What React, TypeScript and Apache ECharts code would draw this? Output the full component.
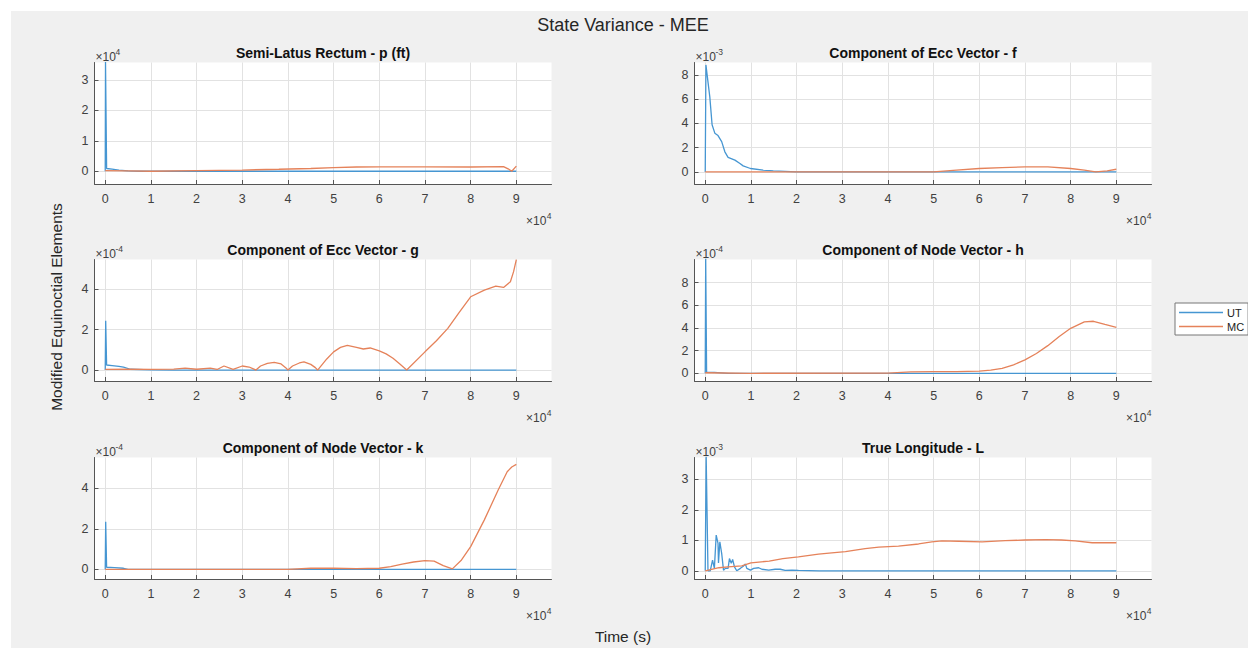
import React, { useEffect, useRef } from "react";
import * as echarts from "echarts";

// ---------- data (time in s; values in units of each panel's axis exponent) ----------
const X_TICKS = [0, 10000, 20000, 30000, 40000, 50000, 60000, 70000, 80000, 90000];

// Semi-Latus Rectum p (x1e4 ft)
const pUT = [[0, 0], [60, 3.6], [300, 0.09], [1500, 0.07], [3000, 0.04], [5000, 0.01], [8000, 0], [90000, 0]];
const pMC = [[0, 0.02], [5000, 0.01], [10000, 0], [20000, 0.02], [30000, 0.04], [38000, 0.066], [45000, 0.09], [50000, 0.12], [55000, 0.14], [60000, 0.145], [70000, 0.145], [80000, 0.14], [87200, 0.15], [88200, 0.08], [89000, 0], [90000, 0.17]];
const pTicks = [0, 1, 2, 3];

// Ecc vector f (x1e-3)
const fUT = [[0, 0], [150, 8.84], [1000, 6.2], [1500, 3.9], [2100, 3.2], [2800, 3.0], [3600, 2.5], [4300, 1.66], [5000, 1.2], [6500, 0.97], [7600, 0.69], [8300, 0.5], [9900, 0.28], [12700, 0.14], [14900, 0.08], [20000, 0.01], [25000, 0], [90000, 0]];
const fMC = [[0, 0], [30000, 0], [45000, 0.01], [50000, 0], [55000, 0.14], [60000, 0.28], [65000, 0.36], [70000, 0.41], [75000, 0.41], [80000, 0.28], [83000, 0.14], [85500, 0], [88000, 0.08], [90000, 0.22]];
const fTicks = [0, 2, 4, 6, 8];

// Ecc vector g (x1e-4)
const gUT = [[0, 0], [100, 2.44], [300, 0.25], [1500, 0.22], [3000, 0.18], [4000, 0.15], [5500, 0.04], [10000, 0.01], [15000, 0], [90000, 0]];
const gMC = [[0, 0.03], [5000, 0.05], [10000, 0.03], [15000, 0.05], [17500, 0.1], [20000, 0.04], [23000, 0.1], [24500, 0.03], [26000, 0.2], [28000, 0.03], [30000, 0.2], [31500, 0.15], [33000, 0], [34000, 0.2], [35500, 0.33], [37000, 0.38], [38500, 0.3], [39500, 0.12], [40000, 0], [41000, 0.2], [42500, 0.35], [43500, 0.4], [45000, 0.28], [46000, 0.12], [46500, 0], [48500, 0.55], [50000, 0.9], [51500, 1.12], [53000, 1.22], [55000, 1.12], [56500, 1.04], [58000, 1.09], [60000, 0.95], [61500, 0.8], [63000, 0.58], [64500, 0.3], [66000, 0], [70000, 0.9], [72500, 1.45], [75000, 2.06], [77500, 2.85], [80000, 3.62], [83000, 3.95], [85500, 4.15], [87200, 4.08], [88700, 4.36], [89400, 4.86], [90000, 5.45]];
const gTicks = [0, 2, 4];

// Node vector h (x1e-4)
const hUT = [[0, 0], [100, 10.2], [300, 0.1], [2000, 0.08], [5000, 0], [90000, 0]];
const hMC = [[0, 0.05], [10000, 0], [40000, 0.02], [45000, 0.12], [50000, 0.15], [55000, 0.15], [60000, 0.2], [62500, 0.28], [65000, 0.44], [67500, 0.75], [70000, 1.18], [72500, 1.75], [75000, 2.44], [77500, 3.25], [80000, 3.97], [83000, 4.53], [85000, 4.59], [87500, 4.32], [90000, 4.06]];
const hTicks = [0, 2, 4, 6, 8];

// Node vector k (x1e-4)
const kUT = [[0, 0], [100, 2.35], [300, 0.1], [2000, 0.08], [4000, 0.05], [5000, 0], [90000, 0]];
const kMC = [[0, 0], [40000, 0], [45000, 0.05], [50000, 0.05], [55000, 0.03], [60000, 0.05], [62500, 0.13], [65000, 0.25], [67500, 0.36], [70000, 0.43], [72000, 0.4], [74000, 0.18], [76000, 0.02], [78000, 0.46], [80000, 1.12], [83000, 2.44], [86000, 3.9], [88000, 4.82], [89000, 5.05], [90000, 5.18]];
const kTicks = [0, 2, 4];

// True longitude L (x1e-3)
const LUT = [[0, 0], [200, 3.8], [600, 0], [1100, 0], [1600, 0.35], [2000, 0.08], [2400, 1.17], [2800, 0.9], [2900, 0.26], [3200, 0.95], [3600, 0.57], [4000, 0.02], [4400, 0.08], [5000, 0.08], [5300, 0.4], [5700, 0.25], [6000, 0.37], [6400, 0.13], [6900, 0], [7700, 0.08], [8400, 0.16], [8800, 0.22], [9100, 0.08], [9900, 0.02], [10600, 0.08], [11700, 0.1], [12400, 0.05], [13900, 0.02], [15300, 0.05], [16400, 0.05], [17500, 0.01], [19000, 0.02], [20400, 0.01], [25000, 0], [90000, 0]];
const LMC = [[0, 0], [3000, 0.1], [5000, 0.13], [8000, 0.16], [10000, 0.26], [14000, 0.32], [17000, 0.4], [20400, 0.46], [24800, 0.55], [27700, 0.59], [30700, 0.63], [35000, 0.73], [38000, 0.78], [42300, 0.81], [46700, 0.88], [49600, 0.95], [51800, 0.98], [55500, 0.97], [60600, 0.95], [65700, 0.99], [70000, 1.01], [74500, 1.02], [78000, 1.01], [81000, 0.98], [84700, 0.92], [90000, 0.92]];
const LTicks = [0, 1, 2, 3];

// ---------- layout / style ----------
const FONT = "'Liberation Sans', Arial, Helvetica, sans-serif";
const COL_X = [94.5, 694.5];
const ROW_Y = [62.5, 259.5, 457.5];
const GW = 457;
const GH = 121.5;
const X_MIN = -2350;
const X_MAX = 97700;
const UT_COLOR = "#4696d2";
const MC_COLOR = "#e5825a";
const AX_COLOR = "#555555";
const LBL_COLOR = "#404040";
const GRID_COLOR = "#e2e2e2";

const panels = [
  { title: "Semi-Latus Rectum - p (ft)", exp: "4", ut: pUT, mc: pMC, yMin: -0.42, yMax: 3.58, ticks: pTicks, col: 0, row: 0 },
  { title: "Component of Ecc Vector - f", exp: "-3", ut: fUT, mc: fMC, yMin: -1.0, yMax: 9.04, ticks: fTicks, col: 1, row: 0 },
  { title: "Component of Ecc Vector - g", exp: "-4", ut: gUT, mc: gMC, yMin: -0.54, yMax: 5.46, ticks: gTicks, col: 0, row: 1 },
  { title: "Component of Node Vector - h", exp: "-4", ut: hUT, mc: hMC, yMin: -0.68, yMax: 10.04, ticks: hTicks, col: 1, row: 1 },
  { title: "Component of Node Vector - k", exp: "-4", ut: kUT, mc: kMC, yMin: -0.48, yMax: 5.52, ticks: kTicks, col: 0, row: 2 },
  { title: "True Longitude - L", exp: "-3", ut: LUT, mc: LMC, yMin: -0.27, yMax: 3.72, ticks: LTicks, col: 1, row: 2 },
];

function expoLabel(x: number, y: number, sup: string, align: "left" | "right") {
  const supW = sup.length * 4.6 + 0.5;
  const mainStyle = { fontSize: 12, fontFamily: FONT, fill: LBL_COLOR, verticalAlign: "middle" };
  const supStyle = { fontSize: 8.5, fontFamily: FONT, fill: LBL_COLOR, verticalAlign: "middle" };
  if (align === "left") {
    return [
      { type: "text", x, y, silent: true, style: { ...mainStyle, text: "×10", align: "left" } },
      { type: "text", x: x + 20, y: y - 5, silent: true, style: { ...supStyle, text: sup, align: "left" } },
    ];
  }
  return [
    { type: "text", x: x - supW, y, silent: true, style: { ...mainStyle, text: "×10", align: "right" } },
    { type: "text", x, y: y - 5, silent: true, style: { ...supStyle, text: sup, align: "right" } },
  ];
}

function buildOption() {
  const grid: any[] = [];
  const xAxis: any[] = [];
  const yAxis: any[] = [];
  const series: any[] = [];
  const graphic: any[] = [
    { type: "rect", shape: { x: 0, y: 0, width: 1248, height: 11 }, style: { fill: "#ffffff" }, silent: true },
    { type: "rect", shape: { x: 0, y: 0, width: 11, height: 648 }, style: { fill: "#ffffff" }, silent: true },
    {
      type: "text", x: 623, y: 25, silent: true,
      style: { text: "State Variance - MEE", fontSize: 18, fontFamily: FONT, fill: "#262626", align: "center", verticalAlign: "middle" },
    },
    {
      type: "text", x: 623, y: 636, silent: true,
      style: { text: "Time (s)", fontSize: 15.5, fontFamily: FONT, fill: "#262626", align: "center", verticalAlign: "middle" },
    },
    {
      type: "text", x: 56, y: 307, rotation: Math.PI / 2, silent: true,
      style: { text: "Modified Equinoctial Elements", fontSize: 15.5, fontFamily: FONT, fill: "#262626", align: "center", verticalAlign: "middle" },
    },
  ];

  panels.forEach((p, i) => {
    const left = COL_X[p.col];
    const top = ROW_Y[p.row];
    grid.push({ left, top, width: GW, height: GH, show: true, backgroundColor: "#ffffff", borderWidth: 0, containLabel: false });
    xAxis.push({
      type: "value", gridIndex: i, min: X_MIN, max: X_MAX,
      axisLine: { show: true, onZero: false, lineStyle: { color: AX_COLOR, width: 1 } },
      axisTick: { show: true, inside: true, length: 4, customValues: X_TICKS, lineStyle: { color: AX_COLOR } },
      axisLabel: { show: true, customValues: X_TICKS, formatter: (v: number) => String(Math.round(v / 10000)), color: LBL_COLOR, fontSize: 12.5, fontFamily: FONT, margin: 8 },
      splitLine: { show: true, lineStyle: { color: GRID_COLOR, width: 1 } },
    });
    yAxis.push({
      type: "value", gridIndex: i, min: p.yMin, max: p.yMax,
      axisLine: { show: true, onZero: false, lineStyle: { color: AX_COLOR, width: 1 } },
      axisTick: { show: true, inside: true, length: 4, customValues: p.ticks, lineStyle: { color: AX_COLOR } },
      axisLabel: { show: true, customValues: p.ticks, formatter: (v: number) => String(v), color: LBL_COLOR, fontSize: 12.5, fontFamily: FONT, margin: 6 },
      splitLine: { show: true, lineStyle: { color: GRID_COLOR, width: 1 } },
    });
    series.push({
      type: "line", name: "UT", xAxisIndex: i, yAxisIndex: i, data: p.ut, symbol: "none", showSymbol: false,
      lineStyle: { color: UT_COLOR, width: 1.3 }, itemStyle: { color: UT_COLOR }, clip: true, z: 2,
    });
    series.push({
      type: "line", name: "MC", xAxisIndex: i, yAxisIndex: i, data: p.mc, symbol: "none", showSymbol: false,
      lineStyle: { color: MC_COLOR, width: 1.3 }, itemStyle: { color: MC_COLOR }, clip: true, z: 3,
    });
    graphic.push({
      type: "text", x: left + GW / 2, y: top - 9.5, silent: true,
      style: { text: p.title, fontSize: 14, fontWeight: "bold", fontFamily: FONT, fill: "#111111", align: "center", verticalAlign: "middle" },
    });
    graphic.push(...expoLabel(left + 1, top - 6, p.exp, "left"));
    graphic.push(...expoLabel(left + GW, top + GH + 37, "4", "right"));
  });

  return {
    animation: false,
    backgroundColor: "#f0f0f0",
    grid, xAxis, yAxis, series, graphic,
    legend: {
      data: ["UT", "MC"], orient: "vertical", left: 1175, top: 303,
      backgroundColor: "#ffffff", borderColor: "#777777", borderWidth: 1, borderRadius: 0,
      padding: [4, 4, 3, 4], itemGap: 3, itemWidth: 44, itemHeight: 1.5, icon: "rect",
      textStyle: { fontSize: 11, color: "#222222", fontFamily: FONT, padding: [0, 0, 0, -1] },
      selectedMode: false,
    },
  };
}

export default function App() {
  const ref = useRef<HTMLDivElement>(null);
  useEffect(() => {
    const chart = echarts.init(ref.current!, null, { renderer: "svg" });
    chart.setOption(buildOption() as any);
    return () => chart.dispose();
  }, []);
  return (
    <div
      ref={ref}
      style={{ position: "fixed", left: 0, top: 0, width: 1248, height: 648, background: "#f0f0f0" }}
    />
  );
}
